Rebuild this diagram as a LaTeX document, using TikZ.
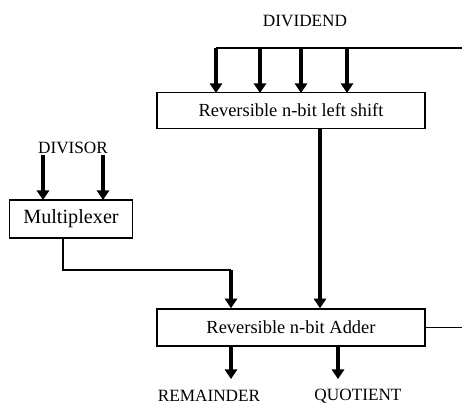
\documentclass[tikz,border=0pt]{standalone}
\usepackage{fontspec}
\setmainfont{Liberation Serif}
\usetikzlibrary{arrows.meta}

\tikzset{
  block/.style={draw, line width=0.9pt, inner sep=0pt, font=\fontsize{10.5}{12}\selectfont},
  wire/.style={line width=0.7pt},
  bus/.style={line width=1.9pt, -{Triangle[width=7pt,length=5.5pt]}},
  lbl/.style={font=\fontsize{9.8}{11}\selectfont}
}

\begin{document}
\begin{tikzpicture}[x=0.02cm, y=-0.02cm]
    \useasboundingbox (0,0) rectangle (462,403);
    \node[block, minimum width=5.36cm, minimum height=0.72cm] (shift) at (291,110.5) {Reversible n-bit left shift};
    \node[block, minimum width=2.46cm, minimum height=0.76cm, font=\fontsize{11.5}{13}\selectfont] (mux) at (71,219) {Multiplexer};
    \node[block, minimum width=5.36cm, minimum height=0.74cm] (adder) at (291,327.5) {Reversible n-bit Adder};
    \node[lbl] (dividend) at (305,21) {DIVIDEND};
    \node[lbl] (divisor) at (73,148) {DIVISOR};
    \node[lbl] (rem) at (209,396) {REMAINDER};
    \node[lbl] (quot) at (358,396) {QUOTIENT};
    \coordinate (top) at (462,48);
    \coordinate (right) at (462,327.5);
    \coordinate (bend) at (231,270);
    % dividend bus
    \draw[wire] (216,48) -- (top);
    \foreach \x in {216,260,301,347}
        \draw[bus] (\x,48) -- (\x,93);
    % divisor inputs
    \foreach \x in {43,103}
        \draw[bus] (\x,155) -- (\x,200);
    \draw[wire] (mux.south -| 63,0) |- (bend);
    \draw[bus] (bend) -- (adder.north -| bend);
    \draw[bus] (shift.south -| 320,0) -- (adder.north -| 320,0);
    \draw[wire] (adder.east) -- (right);
    \draw[bus] (adder.south -| 231,0) -- (231,379);
    \draw[bus] (adder.south -| 338,0) -- (338,379);
\end{tikzpicture}
\end{document}
